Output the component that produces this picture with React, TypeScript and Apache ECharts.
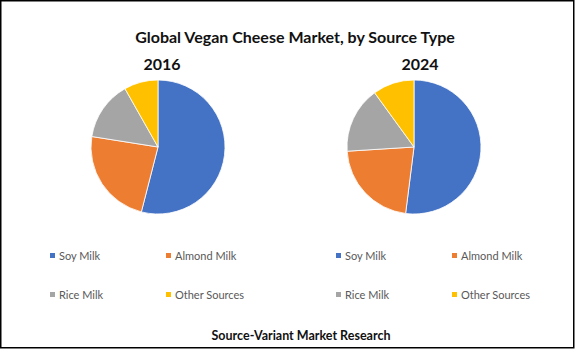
import React, { useEffect, useRef } from "react";
import * as echarts from "echarts";

const categories = ["Soy Milk", "Almond Milk", "Rice Milk", "Other Sources"];
const share2016 = [54, 23.5, 14.3, 8.2];
const share2024 = [52, 22, 16, 10];
const years = ["2016", "2024"];
const colors = ["#4472C4", "#ED7D31", "#A5A5A5", "#FFC000"];

const FONT = "Lato, 'Open Sans', sans-serif";

export default function App() {
  const ref = useRef<HTMLDivElement>(null);
  useEffect(() => {
    if (!ref.current) return;
    const chart = echarts.init(ref.current, null, { renderer: "svg" });
    const legendPos = [
      { left: 49, top: 250 },
      { left: 165, top: 250 },
      { left: 49, top: 289 },
      { left: 165, top: 289 },
    ];
    const legends: any[] = [];
    [0, 286].forEach((dx) => {
      categories.forEach((c, i) => {
        legends.push({
          data: [c],
          left: legendPos[i].left + dx - 1,
          top: legendPos[i].top,
          icon: "rect",
          itemWidth: 7,
          itemHeight: 7,
          padding: 0,
          selectedMode: false,
          textStyle: { fontFamily: FONT, fontSize: 11, color: "#595959", padding: [0, 0, 0, -2] },
        });
      });
    });
    const mk = (vals: number[], cx: number) => ({
      type: "pie",
      center: [cx, 147],
      radius: 67,
      startAngle: 90,
      clockwise: true,
      label: { show: false },
      labelLine: { show: false },
      emphasis: { disabled: true },
      itemStyle: { borderColor: "#fff", borderWidth: 0.8 },
      data: categories.map((c, i) => ({ name: c, value: vals[i] })),
    });
    chart.setOption({
      animation: false,
      color: colors,
      backgroundColor: "#fff",
      legend: legends,
      series: [mk(share2016, 158), mk(share2024, 414)],
      graphic: [
        {
          type: "rect",
          shape: { x: 0.75, y: 0.75, width: 573, height: 347 },
          style: { fill: "none", stroke: "#000", lineWidth: 1.5 },
          silent: true,
        },
        {
          type: "text",
          x: 295,
          y: 36,
          style: {
            text: "Global Vegan Cheese Market, by Source Type",
            font: `bold 16px ${FONT}`,
            fill: "#111",
            textAlign: "center",
            textVerticalAlign: "middle",
          },
        },
        {
          type: "text",
          x: 162,
          y: 63,
          style: { text: years[0], font: `bold 16px ${FONT}`, fill: "#111", textAlign: "center", textVerticalAlign: "middle" },
        },
        {
          type: "text",
          x: 420,
          y: 63,
          style: { text: years[1], font: `bold 16px ${FONT}`, fill: "#111", textAlign: "center", textVerticalAlign: "middle" },
        },
        {
          type: "text",
          x: 301,
          y: 335,
          style: {
            text: "Source-Variant Market Research",
            font: `bold 12.5px ${FONT}`,
            fill: "#111",
            textAlign: "center",
            textVerticalAlign: "middle",
          },
        },
      ],
    });
    return () => chart.dispose();
  }, []);
  return (
    <div
      ref={ref}
      style={{ position: "fixed", left: 0, top: 0, width: 575, height: 350 }}
    />
  );
}
